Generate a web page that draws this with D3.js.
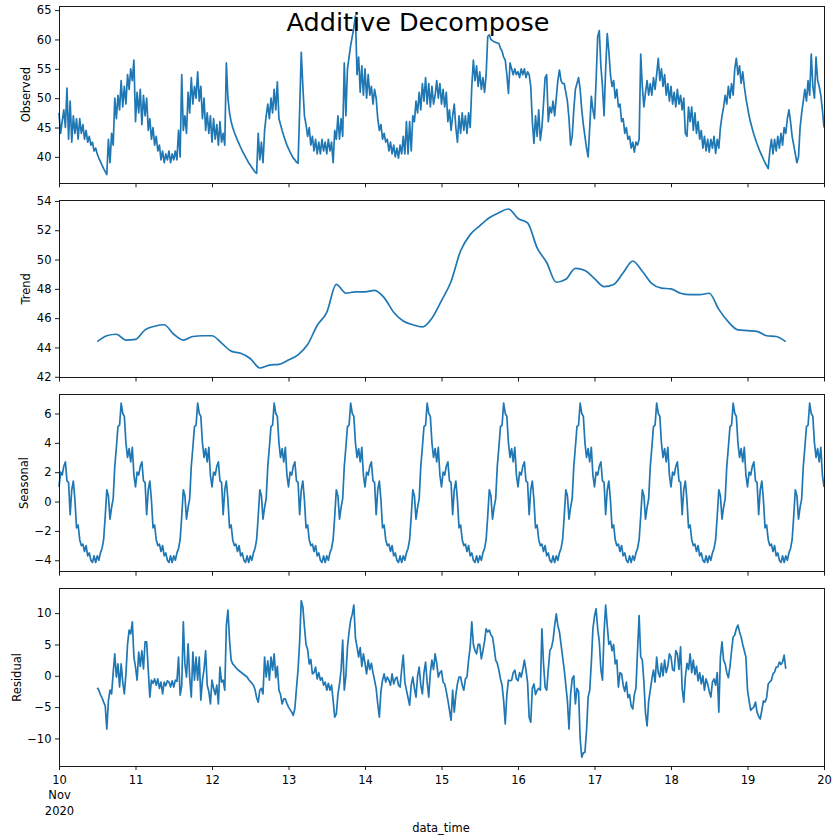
<!DOCTYPE html>
<meta charset="utf-8">
<style>
body { margin: 0; background: #fff; }
svg { font-family: "DejaVu Sans", sans-serif; background: #fff; }
.axis text { font-family: "DejaVu Sans", sans-serif; font-size: 11.5px; fill: #000; }
.axis line { stroke: #000; stroke-width: 0.9; }
.frame { fill: none; stroke: #000; stroke-width: 0.9; shape-rendering: crispEdges; }
.series { fill: none; stroke: #1f77b4; stroke-width: 1.7; stroke-linejoin: round; }
.ylabel, .xlabel { font-size: 11.5px; fill: #000; }
.title { font-size: 25.5px; fill: #000; }
</style>
<svg width="832" height="836"></svg>
<script src="https://d3js.org/d3.v7.min.js"></script>
<script>
// seasonal decompose, period = 1 day, half-hourly data 10-20 Nov 2020
var dayLabels = ["10", "11", "12", "13", "14", "15", "16", "17", "18", "19", "20"];

// every 30 minutes, from 10 Nov 00:00 to 20 Nov 00:00 (one row = 6 hours)
var observed = [
  47.5, 44.0, 46.0, 48.0, 45.0, 51.7, 43.0, 49.5, 42.5, 47.0, 44.0, 46.5,
  43.0, 46.5, 44.0, 45.5, 43.0, 44.5, 42.5, 43.5, 42.0, 42.5, 41.0, 41.5,
  40.5, 39.8, 39.2, 38.6, 38.0, 37.5, 37.0, 43.0, 39.0, 44.0, 42.0, 50.0,
  46.5, 50.5, 48.0, 53.0, 48.5, 52.0, 49.0, 54.0, 51.5, 55.0, 53.0, 56.5,
  46.0, 51.0, 47.5, 51.5, 45.5, 50.5, 47.0, 50.0, 44.5, 46.5, 43.0, 45.0,
  42.0, 43.5, 41.0, 42.0, 39.5, 41.0, 39.0, 40.5, 39.5, 41.0, 39.0, 40.5,
  39.5, 41.0, 39.5, 44.5, 40.0, 54.0, 44.5, 47.0, 44.0, 51.0, 47.5, 53.5,
  49.0, 52.0, 50.0, 54.5, 49.5, 52.0, 46.5, 50.0, 44.5, 47.5, 44.0, 47.0,
  42.5, 46.5, 43.0, 45.5, 42.0, 46.0, 42.5, 44.0, 42.0, 56.0, 50.0, 47.5,
  46.0, 45.0, 44.2, 43.5, 42.8, 42.2, 41.6, 41.0, 40.5, 40.0, 39.5, 39.0,
  38.6, 38.2, 37.8, 37.4, 37.2, 44.0, 39.5, 42.5, 39.0, 44.5, 47.0, 49.0,
  46.5, 50.0, 47.5, 51.5, 48.0, 52.8, 46.5, 45.5, 44.5, 43.6, 42.8, 42.0,
  41.4, 40.8, 40.3, 39.8, 39.5, 39.1, 38.9, 48.0, 57.8, 52.0, 47.0, 45.5,
  43.5, 45.0, 42.0, 43.5, 41.0, 43.0, 40.5, 42.5, 40.5, 43.0, 41.0, 42.5,
  40.5, 43.0, 41.0, 42.5, 39.0, 44.5, 43.0, 47.0, 43.0, 46.5, 43.5, 56.0,
  47.0, 55.0, 57.0, 59.0, 60.5, 62.0, 64.0, 54.0, 57.0, 51.0, 55.5, 50.5,
  55.0, 50.0, 54.0, 50.5, 52.0, 49.0, 51.5, 50.0, 46.5, 44.5, 45.5, 43.0,
  44.0, 42.5, 43.0, 41.0, 42.5, 40.5, 42.0, 40.0, 41.5, 39.8, 42.0, 40.5,
  43.5, 40.5, 46.0, 40.5, 46.0, 41.0, 47.0, 46.0, 49.5, 47.5, 51.0, 48.0,
  52.5, 49.5, 53.5, 49.0, 52.5, 48.5, 52.0, 49.0, 50.5, 53.0, 50.0, 52.5,
  49.0, 51.5, 48.5, 51.0, 46.0, 48.0, 44.5, 47.0, 49.0, 45.0, 42.5, 47.0,
  44.0, 47.5, 44.5, 47.0, 44.0, 47.5, 45.0, 52.0, 56.5, 53.0, 55.5, 52.0,
  54.5, 51.5, 53.5, 51.0, 54.0, 60.5, 60.8, 60.0, 59.8, 59.6, 59.5, 59.4,
  59.3, 58.5, 58.0, 57.0, 56.5, 54.0, 50.8, 56.0, 55.0, 54.0, 55.0, 54.0,
  54.5, 53.5, 55.0, 54.0, 55.0, 53.5, 54.5, 54.0, 52.0, 46.0, 42.3, 47.0,
  43.5, 48.0, 42.8, 45.0, 49.0, 53.5, 54.0, 46.0, 48.5, 47.5, 49.5, 47.0,
  50.0, 53.0, 54.8, 53.0, 52.5, 52.5, 51.0, 49.5, 46.5, 42.0, 43.5, 48.0,
  51.5, 52.5, 53.5, 51.5, 48.0, 45.5, 43.5, 41.5, 40.0, 45.0, 50.3, 48.0,
  46.5, 53.0, 60.5, 61.5, 55.5, 52.0, 47.0, 55.0, 61.0, 58.0, 54.0, 52.0,
  53.0, 50.0, 51.5, 48.5, 49.0, 46.0, 46.5, 44.0, 45.0, 43.0, 43.5, 41.5,
  42.5, 40.8, 42.5, 42.0, 43.0, 57.5, 52.0, 48.5, 51.0, 53.0, 50.5, 52.5,
  50.5, 53.5, 51.5, 54.0, 56.8, 53.0, 55.0, 52.0, 54.0, 50.5, 52.5, 49.5,
  52.0, 49.0, 51.0, 48.5, 51.5, 49.0, 50.5, 48.0, 50.0, 44.0, 43.5, 48.5,
  46.0, 48.5, 44.5, 47.5, 44.0, 46.0, 43.0, 44.5, 41.5, 43.5, 41.0, 43.0,
  40.8, 43.0, 41.5, 43.5, 40.6, 43.0, 41.5, 45.0, 47.0, 48.5, 50.5, 49.0,
  52.0, 50.0, 52.5, 50.5, 55.0, 56.8, 54.0, 55.5, 52.5, 54.5, 52.0, 50.0,
  48.5, 47.0, 45.8, 44.8, 43.8, 43.0, 42.2, 41.5, 40.8, 40.2, 39.6, 39.0,
  38.5, 38.0, 41.0, 43.0, 40.5, 43.0, 41.0, 43.5, 41.5, 44.0, 42.0, 45.0,
  44.0, 46.5, 48.0, 46.0, 43.5, 42.0, 40.5, 39.0, 40.0, 45.0, 47.5, 49.5,
  51.5, 49.5, 53.0, 50.5, 57.5, 52.0, 50.0, 57.0, 53.0, 52.0, 50.5, 48.0,
  45.0
];

// every 3 hours, from 10 Nov 12:00 to 19 Nov 12:00
var trend = [
  44.4, 44.8, 44.9, 44.5, 44.55, 45.2, 45.45, 45.55, 44.9, 44.5,
  44.75, 44.8, 44.8, 44.3, 43.75, 43.6, 43.25, 42.6, 42.8, 42.85,
  43.15, 43.5, 44.2, 45.5, 46.4, 48.3, 47.7, 47.8, 47.8, 47.9,
  47.4, 46.4, 45.8, 45.55, 45.4, 46.0, 47.2, 48.5, 50.6, 51.7,
  52.3, 52.85, 53.2, 53.45, 52.8, 52.5, 50.8, 49.8, 48.45, 48.65,
  49.4, 49.25, 48.7, 48.15, 48.3, 49.1, 49.9, 49.2, 48.35, 48.05,
  48.0, 47.7, 47.6, 47.6, 47.7, 46.6, 45.75, 45.2, 45.15, 45.1,
  44.8, 44.75, 44.4
];

// one day of the seasonal component, every 30 minutes
var seasonalDay = [
  1.0, 2.0, 1.8, 2.4, 2.7, 1.4, 1.3, -0.9, 0.8, 1.4, 0.1, -1.8,
  -1.6, -2.6, -3.0, -2.9, -3.4, -3.0, -3.7, -3.5, -4.0, -4.15, -3.7, -4.15,
  -3.7, -4.0, -3.5, -3.2, -2.6, -1.0, 0.8, 0.4, -1.2, -0.4, 0.2, 2.4,
  3.7, 5.1, 5.2, 6.7, 6.0, 5.8, 4.0, 3.0, 3.6, 2.7, 3.7, 1.8
];

// every 30 minutes, from 10 Nov 12:00 to 19 Nov 12:00 (one row = 6 hours)
var residual = [
  -1.9, -2.3, -3.0, -3.5, -4.2, -4.8, -8.5, -4.0, -2.3, -2.9, 0.5, 3.5,
  -0.2, 1.9, -1.8, 1.9, -1.0, -2.9, 0.3, 5.0, 7.3, 6.7, 8.6, 3.0,
  1.4, -0.7, 3.8, 1.5, 4.0, 1.1, 5.4, 5.4, 0.9, -3.4, -0.7, -1.2,
  -0.5, -1.5, -0.5, -2.0, -1.0, -2.9, -1.0, -1.6, -0.8, -1.0, -1.8, -0.8,
  -1.8, -0.7, -0.9, 3.0, -3.1, -1.6, 8.6, 1.9, -0.2, 5.1, -0.3, -3.4,
  3.8, -0.7, 3.0, -0.7, 3.0, -3.9, -0.7, 1.0, 4.0, -1.5, -2.5, -4.5,
  -0.7, -2.0, -3.0, -1.5, -4.5, 1.4, -1.0, -0.7, -2.3, 8.0, 10.5, 5.7,
  2.5, 1.9, 1.6, 1.3, 1.0, 0.8, 0.6, 0.4, 0.2, 0.0, -0.2, -0.6,
  -0.9, -1.2, -1.5, -2.2, -3.5, -4.2, -2.3, -2.0, -2.9, 3.0, -0.2, 2.4,
  -0.7, 3.0, 0.9, 3.5, -0.3, 1.5, -2.3, -3.0, -4.5, -3.7, -3.7, -4.4,
  -5.0, -5.4, -5.8, -6.3, -5.2, -2.0, 1.0, 5.5, 12.0, 11.0, 7.8, 5.0,
  4.2, 1.9, 2.6, 0.3, 0.5, 1.4, -0.5, 0.5, -0.7, -0.3, -1.5, -1.0,
  -2.3, -1.2, -2.3, -1.5, -3.9, -6.6, -6.1, -3.0, -1.3, 0.9, 5.7, -2.3,
  0.0, 4.6, 7.0, 8.9, 9.8, 11.3, 6.0, 4.6, 3.0, 4.5, 1.5, 3.5,
  2.0, 0.3, 2.5, 1.0, 2.0, 0.5, -0.7, -2.0, -4.5, -6.6, -2.5, -0.7,
  0.3, -1.0, -0.2, -0.7, -1.5, 0.3, -1.3, -0.5, -0.2, -1.5, -1.8, 1.0,
  3.3, -1.0, -2.3, -3.5, -4.7, -1.5, -0.2, -2.0, -3.4, 0.0, 1.4, -1.5,
  -2.9, 0.5, 2.2, -1.0, -3.4, 0.5, 2.5, 1.0, 3.5, 2.0, -0.2, 0.5,
  0.8, -1.0, -1.3, -2.5, -3.9, -5.5, -7.1, -2.3, -5.8, -3.0, -1.3, -0.2,
  -0.2, -1.5, -2.3, -0.5, -0.2, 2.5, 4.6, 8.6, 5.0, 4.0, 3.5, 5.0,
  5.0, 2.7, 4.0, 5.5, 7.5, 7.0, 7.3, 6.5, 6.2, 4.5, 2.5, 2.0,
  0.9, -0.5, -1.5, -4.0, -7.7, -3.0, -0.7, -0.8, -0.7, 0.5, 0.9, -0.5,
  -0.8, 0.5, -0.2, 1.0, 2.5, 0.9, -1.0, -6.6, -7.4, -2.0, -1.3, -3.0,
  -2.3, -2.0, -2.3, 7.5, 2.0, -1.8, -2.3, 1.0, 4.0, 4.5, 5.7, 8.0,
  9.9, 8.0, 7.0, 5.0, 3.0, 1.0, -1.5, -4.0, -8.5, -3.0, -0.5, 0.0,
  -4.5, -2.0, -2.5, -10.0, -13.0, -12.3, -12.2, -8.8, -3.4, -2.3, 2.0, 7.5,
  9.5, 10.7, 7.5, 5.5, 1.0, -0.7, 7.0, 11.3, 8.0, 5.0, 5.5, 4.0,
  5.0, 1.9, 2.5, -1.8, 0.5, 0.3, -1.5, -2.5, -1.0, -3.5, -3.0, -4.8,
  -5.3, -3.0, -2.0, 4.0, 9.6, 3.0, 2.5, -1.0, -6.0, -8.0, -4.0, -2.3,
  -0.5, 0.9, -1.0, 3.0, 0.5, -0.2, 2.0, 0.0, 2.5, 0.5, 1.5, 3.5,
  3.0, 1.0, 0.8, 4.0, 3.5, 1.0, 4.6, -2.0, -4.2, -0.2, 2.0, 1.0,
  3.5, 0.5, 2.5, 0.2, 1.5, -0.8, 0.5, -1.3, 0.0, -2.3, -0.5, -1.3,
  -2.5, -3.4, -1.0, -0.5, -1.5, 0.5, -5.8, 3.0, 5.4, 2.5, 1.9, 0.5,
  -0.3, 1.5, 4.0, 6.2, 6.5, 7.5, 8.1, 7.0, 6.2, 5.0, 4.0, 3.0,
  -2.3, -4.0, -5.5, -5.2, -5.0, -4.2, -5.8, -6.5, -6.9, -5.5, -4.0, -4.2,
  -3.5, -1.3, -1.0, -0.7, 0.3, 0.6, 1.4, 1.4, 2.2, 1.8, 2.2, 3.3,
  1.1
];

var start = Date.UTC(2020, 10, 10);
var end = Date.UTC(2020, 10, 20);
function at(hours) { return new Date(start + hours * 3600e3); }

// the seasonal component repeats the same day over the 10 days
var seasonal = [];
d3.range(10).forEach(function() { seasonal = seasonal.concat(seasonalDay); });
seasonal.push(seasonalDay[0]);

var panels = [
  { label: "Observed", labelX: 29.5, domain: [35.5, 65.7], ticks: [40, 45, 50, 55, 60, 65],
    points: observed.map(function(v, i) { return [at(i / 2), v]; }) },
  { label: "Trend", labelX: 29.5, domain: [41.95, 54.05], ticks: [42, 44, 46, 48, 50, 52, 54],
    points: trend.map(function(v, i) { return [at(12 + 3 * i), v]; }), curve: d3.curveMonotoneX },
  { label: "Seasonal", labelX: 27.5, domain: [-4.78, 7.3], ticks: [-4, -2, 0, 2, 4, 6],
    points: seasonal.map(function(v, i) { return [at(i / 2), v]; }) },
  { label: "Residual", labelX: 20.5, domain: [-14.4, 13.9], ticks: [-10, -5, 0, 5, 10],
    points: residual.map(function(v, i) { return [at(12 + i / 2), v]; }) }
];

var svg = d3.select("svg");
var left = 59, right = 824;
var panelTop = [6, 200.2, 394.4, 588.7];
var panelH = 177.3;

var x = d3.scaleUtc()
    .domain([new Date(start), new Date(end)])
    .range([left, right]);

var days = d3.utcDay.range(new Date(start), new Date(end + 1));

function fmt(d) { return d < 0 ? "\u2212" + (-d) : String(d); }

panels.forEach(function(p, k) {
    var top = panelTop[k];
    var y = d3.scaleLinear().domain(p.domain).range([top + panelH, top]);
    var last = k === panels.length - 1;

    svg.append("g")
        .attr("class", "axis")
        .attr("transform", "translate(" + left + ",0)")
        .call(d3.axisLeft(y).tickValues(p.ticks).tickSize(4).tickPadding(3.5).tickFormat(fmt))
        .call(function(g) { g.select(".domain").remove(); });

    var xa = svg.append("g")
        .attr("class", "axis")
        .attr("transform", "translate(0," + (top + panelH) + ")")
        .call(d3.axisBottom(x).tickValues(days).tickSize(4).tickPadding(6)
            .tickFormat(function(d, i) { return last ? dayLabels[i] : ""; }))
        .call(function(g) { g.select(".domain").remove(); });

    if (last) {
        var first = xa.select(".tick text");
        first.append("tspan").attr("x", 0).attr("dy", "15.3px").text("Nov");
        first.append("tspan").attr("x", 0).attr("dy", "15.3px").text("2020");
    }

    var line = d3.line()
        .x(function(d) { return x(d[0]); })
        .y(function(d) { return y(d[1]); });
    if (p.curve) line.curve(p.curve);

    svg.append("path")
        .datum(p.points)
        .attr("class", "series")
        .attr("d", line);

    svg.append("rect")
        .attr("class", "frame")
        .attr("x", left)
        .attr("y", top)
        .attr("width", right - left)
        .attr("height", panelH);

    svg.append("text")
        .attr("class", "ylabel")
        .attr("transform", "translate(" + p.labelX + "," + (top + panelH / 2) + ") rotate(-90)")
        .attr("text-anchor", "middle")
        .text(p.label);
});

svg.append("text")
    .attr("class", "xlabel")
    .attr("x", 441)
    .attr("y", 831.5)
    .attr("text-anchor", "middle")
    .text("data_time");

svg.append("text")
    .attr("class", "title")
    .attr("x", 418)
    .attr("y", 31)
    .attr("text-anchor", "middle")
    .text("Additive Decompose");
</script>
